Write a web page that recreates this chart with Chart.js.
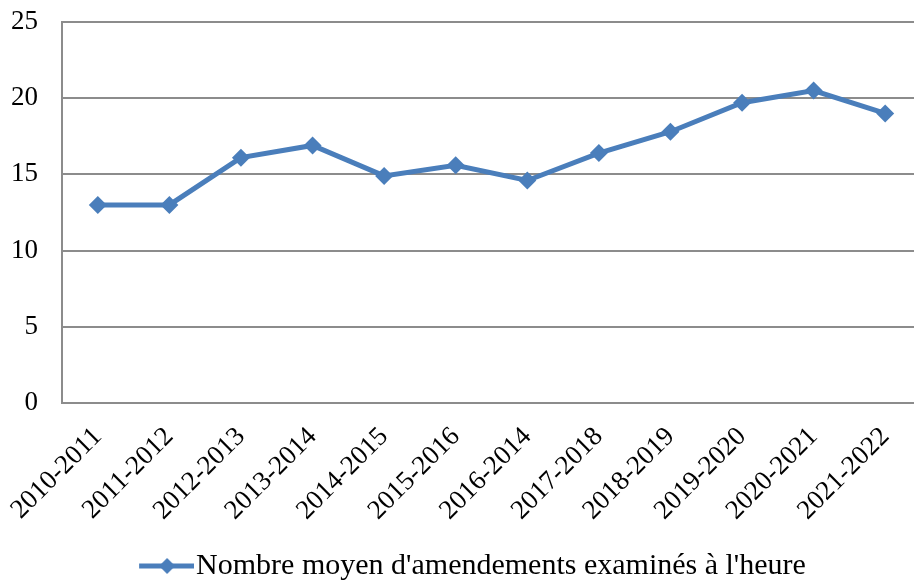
<!DOCTYPE html>
<html>
<head>
<meta charset="utf-8">
<script src="https://cdn.jsdelivr.net/npm/chart.js@4"></script>
<style>
  html, body { margin: 0; padding: 0; background: #fff; overflow: hidden; }
  #chart { display: block; }
</style>
</head>
<body>
<canvas id="chart" width="930" height="583"></canvas>
<script>
// data
const seasons = ['2010-2011', '2011-2012', '2012-2013', '2013-2014', '2014-2015', '2015-2016',
  '2016-2014', '2017-2018', '2018-2019', '2019-2020', '2020-2021', '2021-2022'];
const amendmentsPerHour = [13.0, 13.0, 16.1, 16.9, 14.9, 15.6, 14.6, 16.4, 17.8, 19.7, 20.5, 19.0];
const seriesName = "Nombre moyen d'amendements examinés à l'heure";
const yTicks = [0, 5, 10, 15, 20, 25];

const BLUE = '#4a7ebb';
const GRID = '#8c8c8c';
const FONT = '"Liberation Serif", serif';

// legend swatch: line with a diamond; the left part stays blank so the text sits close
function legendSwatch() {
  const c = document.createElement('canvas');
  c.width = 92; c.height = 22;
  const g = c.getContext('2d');
  g.strokeStyle = BLUE;
  g.lineWidth = 5;
  g.beginPath(); g.moveTo(37, 11); g.lineTo(92, 11); g.stroke();
  g.fillStyle = BLUE;
  g.beginPath();
  g.moveTo(65, 3); g.lineTo(73, 11); g.lineTo(65, 19); g.lineTo(57, 11);
  g.closePath(); g.fill();
  return c;
}

function setupChart() {
  const ctx = document.getElementById('chart');
  const swatch = legendSwatch();

  new Chart(ctx, {
    type: 'line',
    data: {
      labels: seasons,
      datasets: [{
        label: seriesName,
        data: amendmentsPerHour,
        borderColor: BLUE,
        backgroundColor: BLUE,
        borderWidth: 5,
        pointStyle: 'rectRot',
        pointRadius: 9,
        pointHoverRadius: 9,
        pointBorderWidth: 0,
        tension: 0
      }]
    },
    options: {
      responsive: false,
      animation: false,
      layout: { padding: { top: 22, right: 9, left: 0, bottom: -8 } },
      plugins: {
        tooltip: { enabled: false },
        legend: {
          position: 'bottom',
          labels: {
            usePointStyle: true,
            pointStyleWidth: 66,
            color: '#000',
            font: { family: FONT, size: 30 },
            padding: 0,
            generateLabels: () => [{
              text: seriesName,
              pointStyle: swatch,
              fillStyle: BLUE,
              strokeStyle: BLUE,
              lineWidth: 0,
              datasetIndex: 0
            }]
          }
        }
      },
      scales: {
        x: {
          offset: true,
          afterFit: (axis) => { axis.height = 148; },
          grid: { display: false },
          border: { display: false },
          ticks: {
            color: '#000',
            font: { family: FONT, size: 27 },
            minRotation: 45,
            maxRotation: 45,
            autoSkip: false,
            padding: 10
          }
        },
        y: {
          min: 0,
          max: 25,
          afterFit: (axis) => { axis.width = 62; axis.paddingTop = 0; axis.paddingBottom = 0; },
          afterBuildTicks: (axis) => { axis.ticks = yTicks.map(v => ({ value: v })); },
          grid: { color: GRID, lineWidth: 2, drawTicks: false },
          border: { display: true, color: GRID, width: 2 },
          ticks: {
            color: '#000',
            font: { family: FONT, size: 27 },
            padding: 24
          }
        }
      }
    }
  });
}

document.addEventListener('DOMContentLoaded', setupChart);
</script>
</body>
</html>
